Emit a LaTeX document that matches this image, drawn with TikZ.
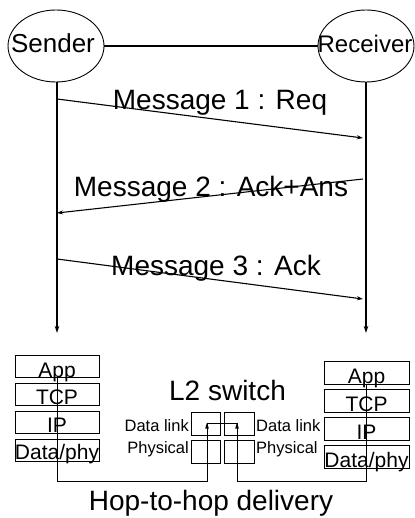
\documentclass[tikz,border=0pt]{standalone}
\usepackage{fontspec}
\setmainfont{Liberation Sans}
\usetikzlibrary{arrows.meta,shapes.geometric}
\begin{document}
\begin{tikzpicture}[x=1pt,y=-1pt,
  actor/.style={draw, ellipse, line width=0.9pt, minimum width=96, minimum height=72, inner sep=0},
  bigtext/.style={font=\fontsize{28}{28}\selectfont, inner sep=0, anchor=base},
  nametext/.style={font=\fontsize{26}{26}\selectfont, inner sep=0, anchor=base},
  layer/.style={draw, line width=0.9pt, minimum width=84, minimum height=22, inner sep=0},
  rlayer/.style={layer, minimum width=85, minimum height=23},
  laytext/.style={font=\fontsize{21}{21}\selectfont, inner sep=0, anchor=base},
  smalltext/.style={font=\fontsize{16.5}{16.5}\selectfont, inner sep=0},
  swbox/.style={draw, line width=0.8pt, minimum height=23, inner sep=0},
  lifeline/.style={line width=1.4pt, -{Stealth[length=7pt, width=4.5pt]}},
  msg/.style={line width=1.1pt, -{Stealth[length=6pt, width=4pt]}},
  route/.style={line width=1pt},
]
\useasboundingbox (0,0) rectangle (414,518);

% endpoints
\node[actor] (snd) at (56,46) {};
\node[actor] (rcv) at (366,46) {};
\node[nametext] (sndtxt) at (53,53) {Sender};
\node[nametext, font=\fontsize{24}{24}\selectfont] (rcvtxt) at (365,53) {Receiver};
\draw[line width=1.4pt] (snd.east) -- (rcv.west);

% lifelines
\coordinate (sndend) at (57,333);
\coordinate (rcvend) at (366,333);
\draw[lifeline] (snd.south -| sndend) -- (sndend);
\draw[lifeline] (rcv.south -| rcvend) -- (rcvend);

% messages
\coordinate (m1a) at (57,99);   \coordinate (m1b) at (363,138);
\coordinate (m2a) at (363,179); \coordinate (m2b) at (57,213);
\coordinate (m3a) at (57,259);  \coordinate (m3b) at (363,299);
\draw[msg] (m1a) -- (m1b);
\draw[msg] (m2a) -- (m2b);
\draw[msg] (m3a) -- (m3b);
\node[bigtext] (m1t) at (220,110) {Message 1 : Req};
\node[bigtext] (m2t) at (211,197) {Message 2 : Ack+Ans};
\node[bigtext] (m3t) at (216,275) {Message 3 : Ack};

% sender stack
\node[layer] (lapp) at (57,366) {};
\node[layer] (ltcp) at (57,394) {};
\node[layer] (lip)  at (57,422) {};
\node[layer] (lphy) at (57,450) {};
\node[laytext] at (57,377) {App};
\node[laytext] at (57,404) {TCP};
\node[laytext] at (57,432) {IP};
\node[laytext] at (57,459) {Data/phy};

% receiver stack
\node[rlayer] (rapp) at (366.5,372.5) {};
\node[rlayer] (rtcp) at (366.5,400.5) {};
\node[rlayer] (rip)  at (366.5,428.5) {};
\node[rlayer] (rphy) at (366.5,456.5) {};
\node[laytext] at (366.5,383) {App};
\node[laytext] at (366.5,411) {TCP};
\node[laytext] at (366.5,439) {IP};
\node[laytext] at (366.5,467) {Data/phy};

% L2 switch
\node[bigtext] (sw) at (227.5,400) {L2 switch};
\node[swbox, minimum width=29] (dlA) at (205.5,423.5) {};
\node[swbox, minimum width=30] (dlB) at (239,423.5) {};
\node[swbox, minimum width=29] (phA) at (205.5,451.5) {};
\node[swbox, minimum width=30] (phB) at (239,451.5) {};
\node[smalltext, anchor=base east] (dlL) at (189,431) {Data link};
\node[smalltext, anchor=base east] (phL) at (189,453) {Physical};
\node[smalltext, anchor=base west] (dlR) at (256,431) {Data link};
\node[smalltext, anchor=base west] (phR) at (256,453) {Physical};

% hop-to-hop route
\coordinate (lt) at (57,376);
\coordinate (lb) at (57,481);
\coordinate (rt) at (366,384);
\coordinate (rb) at (366,481);
\coordinate (ua) at ([xshift=1.5pt]dlA.center);
\coordinate (ub) at ([xshift=-2pt]dlB.center);
\draw[route] (lt) -- (lb) -| (ua) -- (ub) |- (rb) -- (rt);
\foreach \p in {ua,ub}
  \fill ([yshift=1pt]\p) -- ++(-1.8,6) -- ++(3.6,0) -- cycle;

\node[bigtext] (hop) at (211,510) {Hop-to-hop delivery};
\end{tikzpicture}
\end{document}
